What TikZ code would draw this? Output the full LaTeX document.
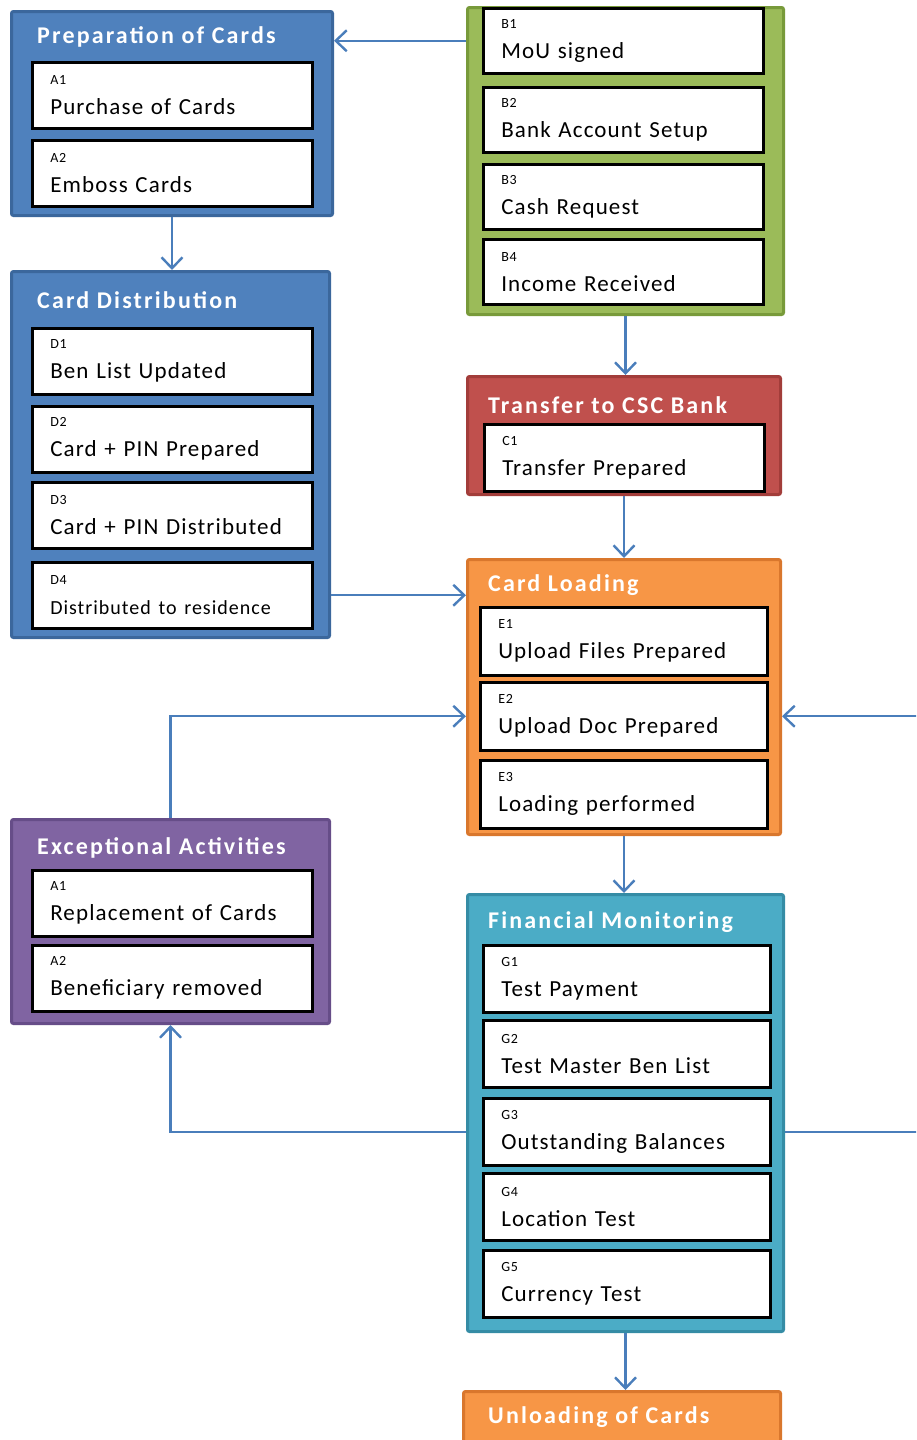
\documentclass[tikz,border=0pt]{standalone}
\usepackage{fontspec}
\setmainfont[LetterSpace=5]{Carlito}
\newfontfamily\titlefont[LetterSpace=9]{Carlito}
\usetikzlibrary{arrows.meta}
\definecolor{prepblue}{HTML}{4F81BD}
\definecolor{prepedge}{HTML}{3B679C}
\definecolor{fundgreen}{HTML}{9BBB59}
\definecolor{fundedge}{HTML}{789A3A}
\definecolor{transred}{HTML}{C0504D}
\definecolor{transedge}{HTML}{A23D3A}
\definecolor{loadorange}{HTML}{F79646}
\definecolor{loadedge}{HTML}{D9772D}
\definecolor{excpurple}{HTML}{8064A2}
\definecolor{excedge}{HTML}{664D88}
\definecolor{finteal}{HTML}{4BACC6}
\definecolor{finedge}{HTML}{358CA5}
\definecolor{flowblue}{HTML}{4A7EBB}
\newcommand\itemtxt[2]{{\fontsize{14}{14}\selectfont #1}\\[4pt]#2}

\begin{document}
\begin{tikzpicture}[x=1pt, y=-1pt]
\tikzset{grpbox/.style={draw, line width=3pt, rounded corners=2pt, anchor=north west, inner sep=0pt},
         grptitle/.style={anchor=west, text=white, inner sep=0pt, font=\titlefont\bfseries\fontsize{24}{28}\selectfont},
         itembox/.style={draw=black, line width=2.5pt, fill=white, anchor=north west, align=left,
                         inner xsep=18pt, inner ysep=0pt, minimum height=66pt, text width=244pt,
                         font=\fontsize{23}{26}\selectfont},
         flow/.style={draw=flowblue, line width=2.4pt, -{Straight Barb[length=11pt, width=21pt, line width=2.4pt]}}}
\useasboundingbox (0,0) rectangle (916,1440);
\clip (0,0) rectangle (916,1440);
% group boxes
\node[grpbox, draw=prepedge, fill=prepblue, minimum width=321pt, minimum height=204pt] (prep) at (10,10) {};
\node[grpbox, draw=prepedge, fill=prepblue, minimum width=318pt, minimum height=366pt] (dist) at (10,270) {};
\node[grpbox, draw=fundedge, fill=fundgreen, minimum width=316pt, minimum height=307pt] (fund) at (466,6) {};
\node[grpbox, draw=transedge, fill=transred, minimum width=313pt, minimum height=118pt] (transfer) at (466,375) {};
\node[grpbox, draw=loadedge, fill=loadorange, minimum width=313pt, minimum height=275pt] (load) at (466,558) {};
\node[grpbox, draw=excedge, fill=excpurple, minimum width=318pt, minimum height=204pt] (except) at (10,818) {};
\node[grpbox, draw=finedge, fill=finteal, minimum width=316pt, minimum height=437pt] (fin) at (466,893) {};
\node[grpbox, draw=loadedge, fill=loadorange, minimum width=317pt, minimum height=100pt] (unload) at (462,1390) {};
% titles
\node[grptitle] (prepT) at (37,37) {Preparation of Cards};
\node[grptitle] (distT) at (37,300) {Card Distribution};
\node[grptitle] (transferT) at (488,405) {Transfer to CSC Bank};
\node[grptitle] (loadT) at (488,585) {Card Loading};
\node[grptitle] (exceptT) at (37,848) {Exceptional Activities};
\node[grptitle] (finT) at (488,922) {Financial Monitoring};
\node[grptitle] (unloadT) at (488,1417) {Unloading of Cards};
% items
\node[itembox] (prepA) at (31,61) {\itemtxt{A1}{Purchase of Cards}};
\node[itembox] (prepB) at (31,139) {\itemtxt{A2}{Emboss Cards}};
\node[itembox] (distA) at (31,327) {\itemtxt{D1}{Ben List Updated}};
\node[itembox] (distB) at (31,405) {\itemtxt{D2}{Card + PIN Prepared}};
\node[itembox] (distC) at (31,481) {\itemtxt{D3}{Card + PIN Distributed}};
\node[itembox] (distD) at (31,561) {\itemtxt{D4}{\fontsize{20}{24}\selectfont Distributed to residence}};
\node[itembox, minimum height=65pt] (mou) at (482,7) {\itemtxt{B1}{MoU signed}};
\node[itembox, minimum height=65pt] (bank) at (482,86) {\itemtxt{B2}{Bank Account Setup}};
\node[itembox, minimum height=65pt] (cash) at (482,163) {\itemtxt{B3}{Cash Request}};
\node[itembox, minimum height=65pt] (income) at (482,238) {\itemtxt{B4}{Income Received}};
\node[itembox, minimum height=67pt] (trprep) at (483,423) {\itemtxt{C1}{Transfer Prepared}};
\node[itembox, text width=251pt, minimum height=68pt] (upfiles) at (479,606) {\itemtxt{E1}{Upload Files Prepared}};
\node[itembox, text width=251pt, minimum height=68pt] (updoc) at (479,681) {\itemtxt{E2}{Upload Doc Prepared}};
\node[itembox, text width=251pt, minimum height=68pt] (loaded) at (479,759) {\itemtxt{E3}{Loading performed}};
\node[itembox] (replace) at (31,869) {\itemtxt{A1}{Replacement of Cards}};
\node[itembox] (benrem) at (31,944) {\itemtxt{A2}{Beneficiary removed}};
\node[itembox, text width=251pt, minimum height=67pt] (testpay) at (482,944) {\itemtxt{G1}{Test Payment}};
\node[itembox, text width=251pt, minimum height=67pt] (testben) at (482,1019) {\itemtxt{G2}{Test Master Ben List}};
\node[itembox, text width=251pt, minimum height=67pt] (outstanding) at (482,1097) {\itemtxt{G3}{Outstanding Balances}};
\node[itembox, text width=251pt, minimum height=67pt] (location) at (482,1172) {\itemtxt{G4}{Location Test}};
\node[itembox, text width=251pt, minimum height=67pt] (currency) at (482,1249) {\itemtxt{G5}{Currency Test}};
% connectors
\draw[flow] (mou -| fund.west) -- (mou -| prep.east);
\draw[flow] (prep.south) -- (prep.south |- dist.north);
\draw[flow] (fund.south) -- (fund.south |- transfer.north);
\draw[flow] (transfer.south) -- (transfer.south |- load.north);
\draw[flow] (distD -| dist.east) -- (distD -| load.west);
\draw[flow] (except.north) |- (updoc -| load.west);
\draw[flow] (load.south) -- (load.south |- fin.north);
\draw[flow] (outstanding -| fin.east) -- ++(170,0) |- (updoc -| load.east);
\draw[flow] (outstanding -| fin.west) -| (except.south);
\draw[flow] (fin.south) -- (fin.south |- unload.north);
\end{tikzpicture}
\end{document}
